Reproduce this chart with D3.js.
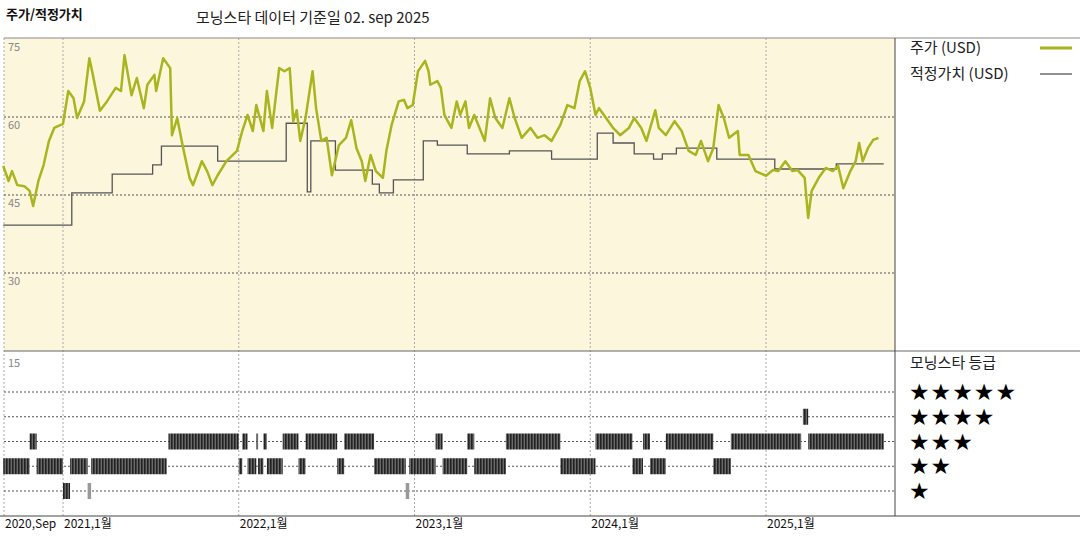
<!DOCTYPE html>
<html><head><meta charset="utf-8">
<script src="https://cdn.jsdelivr.net/npm/d3@7"></script>
<style>body{margin:0;background:#fff}svg{display:block;font-family:"Noto Sans CJK KR","DejaVu Sans",sans-serif}</style>
</head><body><svg id="c" width="1080" height="540"></svg>
<script>
// price (decimal year, USD)
const priceT=[2020.66,2020.69,2020.71,2020.74,2020.78,2020.81,2020.83,2020.86,2020.89,2020.92,2020.95,2021.0,2021.03,2021.06,2021.08,2021.12,2021.15,2021.17,2021.21,2021.25,2021.30,2021.33,2021.35,2021.39,2021.42,2021.46,2021.48,2021.52,2021.53,2021.57,2021.61,2021.62,2021.65,2021.68,2021.72,2021.74,2021.79,2021.82,2021.85,2021.88,2021.93,2021.99,2022.02,2022.05,2022.08,2022.10,2022.14,2022.16,2022.19,2022.23,2022.26,2022.29,2022.31,2022.33,2022.35,2022.38,2022.42,2022.44,2022.47,2022.50,2022.53,2022.57,2022.61,2022.64,2022.67,2022.70,2022.72,2022.75,2022.78,2022.82,2022.84,2022.87,2022.91,2022.94,2022.96,2022.99,2023.02,2023.06,2023.08,2023.09,2023.13,2023.15,2023.17,2023.21,2023.24,2023.26,2023.29,2023.31,2023.34,2023.37,2023.40,2023.43,2023.46,2023.50,2023.54,2023.57,2023.61,2023.66,2023.70,2023.74,2023.78,2023.83,2023.87,2023.91,2023.94,2023.97,2024.0,2024.03,2024.05,2024.09,2024.13,2024.17,2024.22,2024.25,2024.29,2024.32,2024.37,2024.39,2024.43,2024.48,2024.52,2024.56,2024.60,2024.63,2024.67,2024.70,2024.73,2024.76,2024.79,2024.84,2024.85,2024.90,2024.94,2025.0,2025.04,2025.07,2025.11,2025.15,2025.18,2025.22,2025.24,2025.26,2025.30,2025.34,2025.38,2025.41,2025.44,2025.48,2025.51,2025.53,2025.55,2025.58,2025.61,2025.64];
const priceV=[50.6,47.7,49.6,46.9,46.7,45.8,42.9,47.7,50.8,55.4,57.9,58.7,65,63.6,59.8,63,71.3,68.1,61.2,63,65.6,65,71.9,64.2,67.5,61.7,66.2,68.1,65,71.3,69.4,56.5,59.8,54.6,48.3,46.9,51.5,49.6,46.9,48.8,51.5,53.5,57.3,60.4,57.3,62.3,57.3,65,57.9,69.4,68.8,69.4,59.2,61.3,55.4,59.8,68.8,61.7,55.4,56,48.8,54.6,56,59.4,54,51.5,47.7,52.7,49.6,48.3,53.5,58.5,63,63.3,61.7,62.3,68.8,70.8,68.8,66.2,66.9,65.6,60.4,57.9,63,60.4,63,57.9,60.4,57.9,55.4,63.6,59.8,57.9,63.6,59.8,56,57.9,56,56.5,55.4,58.5,62.3,61.7,66.9,68.8,65.6,60.4,61.7,59.8,57.9,56.5,57.9,59.8,57.9,55.4,61.3,57.9,56.5,59.2,57.3,53.5,52.7,55.4,51.5,54,62.3,59.8,56,57.3,52.7,52.7,49.6,48.7,49.8,49.6,51.5,49.6,49.8,48.3,40.6,45.8,48.3,50.2,49.6,50.6,46.3,49.6,51.5,55,51.5,54,55.6,56];
// fair value steps: [start, value]
const fairT=[2020.66,2021.05,2021.28,2021.51,2021.56,2021.88,2022.27,2022.39,2022.41,2022.55,2022.76,2022.80,2022.88,2023.05,2023.13,2023.30,2023.54,2023.78,2024.04,2024.13,2024.25,2024.36,2024.41,2024.49,2024.72,2025.05,2025.40,2025.67];
const fairV=[39.2,45.4,49.0,50.8,54.4,51.5,58.8,45.6,55.4,49.8,47.1,45.4,47.9,55.4,54.6,52.9,53.5,51.9,56.9,55,52.9,51.9,52.9,54,51.9,50,51,51];
// star rating segments
const ratStart=[2020.66,2020.81,2020.85,2021.0,2021.04,2021.14,2021.16,2021.60,2022.0,2022.02,2022.05,2022.10,2022.11,2022.14,2022.16,2022.25,2022.34,2022.38,2022.56,2022.60,2022.77,2022.95,2022.97,2023.12,2023.16,2023.30,2023.34,2023.52,2023.83,2024.03,2024.24,2024.30,2024.34,2024.43,2024.70,2024.80,2025.21,2025.24];
const ratEnd=[2020.81,2020.85,2021.0,2021.04,2021.14,2021.16,2021.59,2022.0,2022.02,2022.05,2022.10,2022.11,2022.14,2022.16,2022.25,2022.34,2022.38,2022.56,2022.60,2022.77,2022.95,2022.97,2023.12,2023.16,2023.30,2023.34,2023.52,2023.83,2024.03,2024.24,2024.30,2024.34,2024.43,2024.70,2024.80,2025.20,2025.24,2025.67];
const ratV=[2,3,2,1,2,1,2,3,2,3,2,3,2,3,2,3,2,3,2,3,2,1,2,3,2,3,2,3,2,3,2,3,2,3,2,3,4,3];
const yTicks=[75,60,45,30];
const xTicks=[2021,2022,2023,2024,2025];
const xLabels=["2021,1월","2022,1월","2023,1월","2024,1월","2025,1월"];
const starLabels=["★★★★★","★★★★","★★★","★★","★"];

const svg=d3.select("#c");
const X0=4,X1=895,T0=38,T1=351,B1=516;
const x=d3.scaleLinear().domain([2021,2025]).range([63,766]);
const y=d3.scaleLinear().domain([15,75]).range([351,39]);
const yr=d3.scaleLinear().domain([5,1]).range([392,491]);
const defs=svg.append("defs");
const pat=defs.append("pattern").attr("id","st").attr("width",3).attr("height",10).attr("patternUnits","userSpaceOnUse");
pat.append("rect").attr("width",3).attr("height",10).attr("fill","#6a6a6a");
pat.append("rect").attr("width",1.6).attr("height",10).attr("fill","#222");

svg.append("rect").attr("x",X0).attr("y",T0).attr("width",X1-X0).attr("height",T1-T0).attr("fill","#fbf6dc");
svg.append("g").selectAll("line").data(xTicks).join("line").attr("x1",d=>x(d)).attr("x2",d=>x(d)).attr("y1",T0).attr("y2",B1)
 .attr("stroke","#aaa").attr("stroke-dasharray","2,2");
svg.append("line").attr("x1",X0).attr("x2",X0).attr("y1",T0).attr("y2",B1).attr("stroke","#aaa").attr("stroke-dasharray","2,2");
svg.append("g").selectAll("line").data(yTicks.slice(1)).join("line").attr("x1",X0).attr("x2",X1).attr("y1",d=>y(d)).attr("y2",d=>y(d))
 .attr("stroke","#555").attr("stroke-dasharray","2,2");
svg.append("g").selectAll("text").data(yTicks).join("text").attr("x",8).attr("y",d=>y(d)+12).text(d=>d)
 .attr("font-size",11).attr("fill","#888");
svg.append("text").attr("x",8).attr("y",367).text("15").attr("font-size",11).attr("fill","#888");
svg.append("g").selectAll("line").data([5,4,3,2,1]).join("line").attr("x1",X0).attr("x2",X1).attr("y1",d=>yr(d)).attr("y2",d=>yr(d))
 .attr("stroke","#555").attr("stroke-dasharray","2,2");
svg.append("line").attr("x1",X0).attr("x2",1080).attr("y1",T0).attr("y2",T0).attr("stroke","#888");
svg.append("line").attr("x1",X0).attr("x2",1080).attr("y1",T1).attr("y2",T1).attr("stroke","#666");
svg.append("line").attr("x1",0).attr("x2",1080).attr("y1",B1).attr("y2",B1).attr("stroke","#444");
svg.append("line").attr("x1",X1).attr("x2",X1).attr("y1",T0).attr("y2",B1).attr("stroke","#444");
const fair=fairT.map((t,i)=>[t,fairV[i]]);
svg.append("path").datum(fair).attr("d",d3.line().x(d=>x(d[0])).y(d=>y(d[1])).curve(d3.curveStepAfter))
 .attr("fill","none").attr("stroke","#555").attr("stroke-width",1.3);
const price=priceT.map((t,i)=>[t,priceV[i]]);
svg.append("path").datum(price).attr("d",d3.line().x(d=>x(d[0])).y(d=>y(d[1])))
 .attr("fill","none").attr("stroke","#aab41e").attr("stroke-width",2.5).attr("stroke-linejoin","round");
svg.append("g").selectAll("rect").data(ratV.map((v,i)=>({s:ratStart[i],e:ratEnd[i],v}))).join("rect")
 .attr("x",d=>x(d.s)).attr("width",d=>Math.max(1.5,x(d.e)-x(d.s))).attr("y",d=>yr(d.v)-8).attr("height",16)
 .attr("fill",d=>d.v===1&&x(d.e)-x(d.s)<4?"#999":"url(#st)");
svg.append("text").attr("x",5).attr("y",528).text("2020,Sep").attr("font-size",12).attr("fill","#111");
svg.append("g").selectAll("text").data(xTicks).join("text").attr("x",d=>x(d)+1).attr("y",528).text((d,i)=>xLabels[i])
 .attr("font-size",12).attr("fill","#111");
svg.append("text").attr("x",6).attr("y",19).text("주가/적정가치").attr("font-size",13).attr("font-weight","bold").attr("fill","#111");
svg.append("text").attr("x",196).attr("y",23).text("모닝스타 데이터 기준일 02. sep 2025").attr("font-size",15).attr("fill","#222");
svg.append("text").attr("x",910).attr("y",53).text("주가 (USD)").attr("font-size",15).attr("fill","#222");
svg.append("line").attr("x1",1040).attr("x2",1072).attr("y1",48).attr("y2",48).attr("stroke","#aab41e").attr("stroke-width",3);
svg.append("text").attr("x",910).attr("y",79).text("적정가치 (USD)").attr("font-size",15).attr("fill","#222");
svg.append("line").attr("x1",1040).attr("x2",1072).attr("y1",74).attr("y2",74).attr("stroke","#555").attr("stroke-width",1.3);
svg.append("text").attr("x",910).attr("y",368).text("모닝스타 등급").attr("font-size",15).attr("fill","#222");
svg.append("g").selectAll("text").data(starLabels).join("text").attr("x",909).attr("y",(d,i)=>yr(5-i)+8).text(d=>d)
 .attr("font-size",23).attr("letter-spacing",1).attr("fill","#000").attr("font-family","DejaVu Sans");
</script></body></html>
